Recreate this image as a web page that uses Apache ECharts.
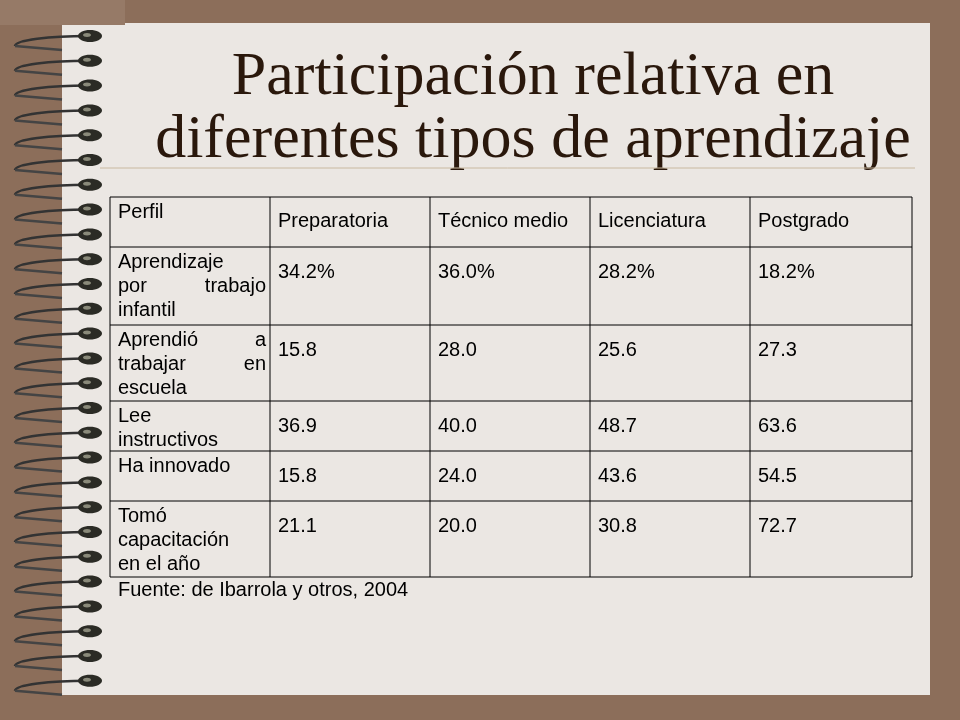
<!DOCTYPE html>
<html><head><meta charset="utf-8">
<script src="https://cdn.jsdelivr.net/npm/echarts@6/dist/echarts.min.js"></script>
<style>html,body{margin:0;padding:0;background:#8c6e5a}#c{width:960px;height:720px}</style>
</head><body><div id="c"></div>
<script>
const title = ["Participación relativa en", "diferentes tipos de aprendizaje"];
const headers = ["Perfil", "Preparatoria", "Técnico medio", "Licenciatura", "Postgrado"];
const rowLabels = [
  ["Aprendizaje", "por trabajo", "infantil"],
  ["Aprendió a", "trabajar en", "escuela"],
  ["Lee", "instructivos"],
  ["Ha innovado"],
  ["Tomó", "capacitación", "en el año"]
];
const preparatoria = ["34.2%", "15.8", "36.9", "15.8", "21.1"];
const tecnicoMedio = ["36.0%", "28.0", "40.0", "24.0", "20.0"];
const licenciatura = ["28.2%", "25.6", "48.7", "43.6", "30.8"];
const postgrado = ["18.2%", "27.3", "63.6", "54.5", "72.7"];
const source = "Fuente: de Ibarrola y otros, 2004";

const colX = [110, 270, 430, 590, 750, 912];
const rowY = [197, 247, 325, 401, 451, 501, 577];
const font = '20px Arial, "Liberation Sans", sans-serif';
const g = [];
g.push({type:'rect', shape:{x:62,y:23,width:868,height:672}, style:{fill:'#ebe7e3'}});
g.push({type:'rect', shape:{x:0,y:0,width:125,height:25}, style:{fill:'#967a67'}});
for (let i = 0; i < 27; i++) {
  const y = 36 + i * 24.8;
  g.push({type:'bezierCurve', shape:{x1:88,y1:y,x2:15,y2:y+10,cpx1:50,cpy1:y,cpx2:15,cpy2:y+4}, style:{stroke:'#333',lineWidth:2.5,fill:null}});
  g.push({type:'line', shape:{x1:15,y1:y+10,x2:62,y2:y+14}, style:{stroke:'#444',lineWidth:2.5}});
  g.push({type:'ellipse', shape:{cx:90,cy:y,rx:12,ry:6}, style:{fill:'#2b2b25'}});
  g.push({type:'ellipse', shape:{cx:87,cy:y-1,rx:4,ry:2}, style:{fill:'#8a8a7a'}});
}
title.forEach((t, i) => g.push({type:'text', x:533, y:78 + i*63, style:{text:t, font:'62px "Liberation Serif","Times New Roman",serif', fill:'#2a180c', align:'center', verticalAlign:'middle'}}));
g.push({type:'line', shape:{x1:100,y1:168,x2:915,y2:168}, style:{stroke:'#c9b9a0',lineWidth:1}});
rowY.forEach(y => g.push({type:'line', shape:{x1:colX[0],y1:y,x2:colX[5],y2:y}, style:{stroke:'#000',lineWidth:1}}));
colX.forEach(x => g.push({type:'line', shape:{x1:x,y1:rowY[0],x2:x,y2:rowY[6]}, style:{stroke:'#000',lineWidth:1}}));
const txt = (s, x, y, align) => g.push({type:'text', x, y, style:{text:s, font, fill:'#000', align:align||'left', verticalAlign:'middle'}});
txt(headers[0], colX[0]+8, rowY[0]+15);
for (let c = 1; c < 5; c++) txt(headers[c], colX[c]+8, rowY[0]+24);
const cols = [preparatoria, tecnicoMedio, licenciatura, postgrado];
rowLabels.forEach((lines, r) => {
  const top = rowY[r+1] + 15;
  lines.forEach((l, k) => {
    const y = top + k*24;
    const w = l.split(' ');
    if (w.length === 2 && k < lines.length - 1) {
      txt(w[0], colX[0]+8, y); txt(w[1], colX[1]-4, y, 'right');
    } else txt(l, colX[0]+8, y);
  });
  cols.forEach((col, c) => txt(col[r], colX[c+1]+8, top + 10));
});
txt(source, colX[0]+8, 590);
const chart = echarts.init(document.getElementById('c'));
chart.setOption({backgroundColor:'#8c6e5a', graphic: g});
</script></body></html>
